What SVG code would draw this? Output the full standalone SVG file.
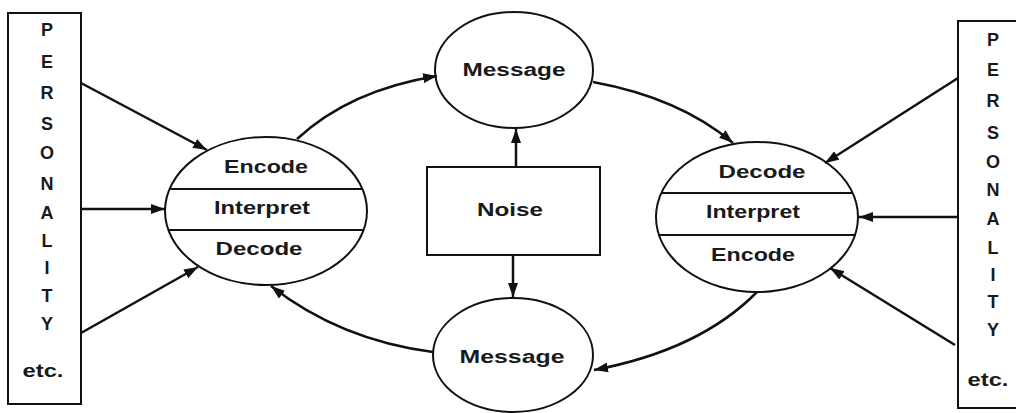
<svg xmlns="http://www.w3.org/2000/svg" width="1016" height="413" viewBox="0 0 1016 413">
<defs>
<style>
.sh{fill:none;stroke:#111;stroke-width:2}
.ln{fill:none;stroke:#111;stroke-width:2.5}
.t{font-family:"Liberation Sans",Arial,sans-serif;font-size:18px;font-weight:bold;fill:#1a1a1a;text-anchor:middle;dominant-baseline:central}
.l{font-family:"Liberation Sans",Arial,sans-serif;font-size:18px;font-weight:bold;fill:#1a1a1a;text-anchor:middle;dominant-baseline:central}
</style>
<marker id="ah" viewBox="0 0 14 10" refX="14" refY="5" markerWidth="14" markerHeight="10" markerUnits="userSpaceOnUse" orient="auto">
<path d="M0,0 L14,5 L0,10 Z" fill="#111"/>
</marker>
</defs>
<rect width="1016" height="413" fill="#fff"/>
<g id="personality-left">
<rect class="sh" x="8" y="13" width="73" height="391"/>
<text class="l" x="47" y="30">P</text>
<text class="l" x="47" y="62">E</text>
<text class="l" x="47" y="93">R</text>
<text class="l" x="47" y="124">S</text>
<text class="l" x="47" y="153">O</text>
<text class="l" x="47" y="184">N</text>
<text class="l" x="47" y="213">A</text>
<text class="l" x="47" y="241">L</text>
<text class="l" x="47" y="268">I</text>
<text class="l" x="47" y="296">T</text>
<text class="l" x="47" y="324">Y</text>
<text class="l" x="43" y="371" textLength="41" lengthAdjust="spacingAndGlyphs">etc.</text>
</g>
<g id="sender">
<ellipse class="sh" cx="266" cy="211" rx="101" ry="74"/>
<line class="sh" x1="170" y1="189" x2="362" y2="189"/>
<line class="sh" x1="169" y1="230" x2="363" y2="230"/>
<text class="t" x="266" y="167" textLength="84" lengthAdjust="spacingAndGlyphs">Encode</text>
<text class="t" x="262" y="208" textLength="96" lengthAdjust="spacingAndGlyphs">Interpret</text>
<text class="t" x="259" y="249" textLength="87" lengthAdjust="spacingAndGlyphs">Decode</text>
</g>
<g id="message-top">
<ellipse class="sh" cx="514" cy="70" rx="79" ry="58"/>
<text class="t" x="514" y="70" textLength="103" lengthAdjust="spacingAndGlyphs">Message</text>
</g>
<g id="noise">
<rect class="sh" x="427" y="167" width="173" height="88"/>
<text class="t" x="510" y="210" textLength="66" lengthAdjust="spacingAndGlyphs">Noise</text>
</g>
<g id="message-bottom">
<ellipse class="sh" cx="513" cy="355" rx="80" ry="57"/>
<text class="t" x="512" y="357" textLength="105" lengthAdjust="spacingAndGlyphs">Message</text>
</g>
<g id="receiver">
<ellipse class="sh" cx="757" cy="217" rx="101" ry="75"/>
<line class="sh" x1="661" y1="193" x2="853" y2="193"/>
<line class="sh" x1="658" y1="235" x2="856" y2="235"/>
<text class="t" x="762" y="172" textLength="87" lengthAdjust="spacingAndGlyphs">Decode</text>
<text class="t" x="753" y="212" textLength="94" lengthAdjust="spacingAndGlyphs">Interpret</text>
<text class="t" x="753" y="255" textLength="84" lengthAdjust="spacingAndGlyphs">Encode</text>
</g>
<g id="personality-right">
<rect class="sh" x="958" y="21" width="62" height="387"/>
<text class="l" x="993" y="40">P</text>
<text class="l" x="993" y="70">E</text>
<text class="l" x="993" y="101">R</text>
<text class="l" x="993" y="133">S</text>
<text class="l" x="993" y="162">O</text>
<text class="l" x="993" y="190">N</text>
<text class="l" x="993" y="219">A</text>
<text class="l" x="993" y="248">L</text>
<text class="l" x="993" y="275">I</text>
<text class="l" x="993" y="302">T</text>
<text class="l" x="993" y="330">Y</text>
<text class="l" x="988" y="380" textLength="41" lengthAdjust="spacingAndGlyphs">etc.</text>
</g>
<g id="connectors">
<line class="ln" x1="81" y1="83" x2="207" y2="150" marker-end="url(#ah)"/>
<line class="ln" x1="81" y1="209" x2="165" y2="209" marker-end="url(#ah)"/>
<line class="ln" x1="81" y1="333" x2="198" y2="267" marker-end="url(#ah)"/>
<path class="ln" d="M297,139 Q350,90 437,76" marker-end="url(#ah)"/>
<path class="ln" d="M593,82 Q680,98 733,143" marker-end="url(#ah)"/>
<path class="ln" d="M757,292 Q700,350 594,370" marker-end="url(#ah)"/>
<path class="ln" d="M433,352 Q340,340 271,286" marker-end="url(#ah)"/>
<line class="ln" x1="516" y1="167" x2="516" y2="129" marker-end="url(#ah)"/>
<line class="ln" x1="513" y1="255" x2="513" y2="297" marker-end="url(#ah)"/>
<line class="ln" x1="958" y1="78" x2="825" y2="163" marker-end="url(#ah)"/>
<line class="ln" x1="958" y1="217" x2="859" y2="217" marker-end="url(#ah)"/>
<line class="ln" x1="955" y1="345" x2="830" y2="268" marker-end="url(#ah)"/>
</g>
</svg>
